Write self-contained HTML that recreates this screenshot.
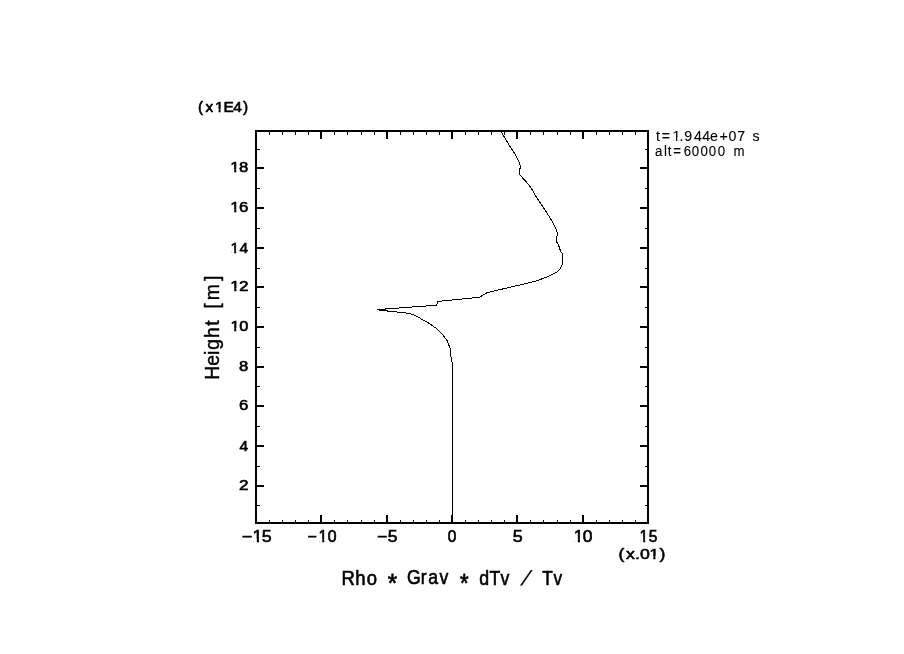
<!DOCTYPE html>
<html><head><meta charset="utf-8"><title>Rho * Grav * dTv / Tv</title>
<style>html,body{margin:0;padding:0;background:#fff;width:904px;height:654px;overflow:hidden}svg{display:block;will-change:transform}text{-webkit-font-smoothing:antialiased}</style>
</head><body>
<svg width="904" height="654" viewBox="0 0 904 654">
<rect width="904" height="654" fill="#fff"/>
<path d="M255 130h394v2h-394zM255 522h394v2h-394zM255 130h2v394h-2zM647 130h2v394h-2zM269 132h1v3h-1zM269 520h1v2h-1zM282 132h1v3h-1zM282 520h1v2h-1zM295 132h1v3h-1zM295 520h1v2h-1zM308 132h1v3h-1zM308 520h1v2h-1zM320 132h2v7h-2zM320 515h2v7h-2zM334 132h1v3h-1zM334 520h1v2h-1zM347 132h1v3h-1zM347 520h1v2h-1zM361 132h1v3h-1zM361 520h1v2h-1zM374 132h1v3h-1zM374 520h1v2h-1zM386 132h2v7h-2zM386 515h2v7h-2zM400 132h1v3h-1zM400 520h1v2h-1zM413 132h1v3h-1zM413 520h1v2h-1zM426 132h1v3h-1zM426 520h1v2h-1zM439 132h1v3h-1zM439 520h1v2h-1zM451 132h2v7h-2zM451 515h2v7h-2zM465 132h1v3h-1zM465 520h1v2h-1zM478 132h1v3h-1zM478 520h1v2h-1zM491 132h1v3h-1zM491 520h1v2h-1zM504 132h1v3h-1zM504 520h1v2h-1zM516 132h2v7h-2zM516 515h2v7h-2zM530 132h1v3h-1zM530 520h1v2h-1zM543 132h1v3h-1zM543 520h1v2h-1zM557 132h1v3h-1zM557 520h1v2h-1zM570 132h1v3h-1zM570 520h1v2h-1zM582 132h2v7h-2zM582 515h2v7h-2zM596 132h1v3h-1zM596 520h1v2h-1zM609 132h1v3h-1zM609 520h1v2h-1zM622 132h1v3h-1zM622 520h1v2h-1zM635 132h1v3h-1zM635 520h1v2h-1zM257 505h3v1h-3zM645 505h2v1h-2zM257 485h7v2h-7zM640 485h7v2h-7zM257 466h3v1h-3zM645 466h2v1h-2zM257 445h7v2h-7zM640 445h7v2h-7zM257 426h3v1h-3zM645 426h2v1h-2zM257 405h7v2h-7zM640 405h7v2h-7zM257 386h3v1h-3zM645 386h2v1h-2zM257 366h7v2h-7zM640 366h7v2h-7zM257 347h3v1h-3zM645 347h2v1h-2zM257 326h7v2h-7zM640 326h7v2h-7zM257 307h3v1h-3zM645 307h2v1h-2zM257 286h7v2h-7zM640 286h7v2h-7zM257 268h3v1h-3zM645 268h2v1h-2zM257 247h7v2h-7zM640 247h7v2h-7zM257 228h3v1h-3zM645 228h2v1h-2zM257 207h7v2h-7zM640 207h7v2h-7zM257 188h3v1h-3zM645 188h2v1h-2zM257 167h7v2h-7zM640 167h7v2h-7zM257 149h3v1h-3zM645 149h2v1h-2z" fill="#000" shape-rendering="crispEdges"/>
<path d="M501.0 131.5 L503.3 135.3 L505.2 138.6 L507.9 143.1 L510.7 147.7 L513.9 152.3 L516.3 156.6 L519.3 162.6 L520.4 166.0 L520.2 168.1 L519.5 169.0 L519.5 174.4 L524.4 179.9 L528.6 184.5 L531.5 188.7 L535.3 195.4 L538.4 200.0 L542.2 205.7 L546.0 211.5 L549.9 217.6 L552.9 222.9 L556.0 228.7 L557.1 232.1 L557.4 235.2 L556.6 236.7 L556.6 242.0 L558.3 244.3 L559.5 248.0 L560.7 251.5 L562.5 254.0 L562.5 264.0 L561.5 266.5 L559.8 269.5 L557.8 271.5 L555.0 273.0 L551.8 274.6 L548.8 276.2 L545.7 277.6 L542.5 278.6 L537.8 280.4 L530.5 282.5 L487.5 292.5 L486.0 293.2 L479.5 297.3 L437.5 301.5 L436.8 305.2 L377.5 309.6 L381.0 310.3 L405.0 312.9 L410.0 313.6 L414.0 315.0 L419.0 317.5 L422.3 319.6 L429.7 323.7 L436.1 328.3 L442.5 334.7 L446.7 339.8 L448.5 344.4 L450.3 348.5 L450.8 355.4 L451.5 359.4 L452.5 364.0 L452.5 522.0" stroke="#000" stroke-width="1" fill="none" stroke-linejoin="round" shape-rendering="crispEdges"/>
<g>
<g transform="matrix(0.07737,0,0,0.07123,0,112.000)"><text x="2558.16 2657.02 2779.09 2887.25 3014.55 3140.28" y="0.00 0.00 0.00 0.00 0.00 0.00" font-family="Liberation Sans" font-size="200" font-weight="normal" stroke="#000" stroke-width="8.10" stroke-linejoin="round" xml:space="preserve">(x1E4)</text><path d="M2787.27 -40.99H2825.33V24.05H2787.27ZM2851.11 -40.99H2887.61V24.05H2851.11Z" fill="#fff"/></g>
<g transform="matrix(0.08333,0,0,0.07333,0,172.000)"><text x="2764.40 2869.00" y="0.00 0.00" font-family="Liberation Sans" font-size="200" font-weight="normal" stroke="#000" stroke-width="8.41" stroke-linejoin="round" xml:space="preserve">18</text><path d="M2772.43 -41.15H2810.48V24.21H2772.43ZM2836.57 -41.15H2873.07V24.21H2836.57Z" fill="#fff"/></g>
<g transform="matrix(0.08416,0,0,0.07333,0,212.000)"><text x="2736.87 2839.82" y="0.00 0.00" font-family="Liberation Sans" font-size="200" font-weight="normal" stroke="#000" stroke-width="8.33" stroke-linejoin="round" xml:space="preserve">16</text><path d="M2744.94 -41.11H2783.00V24.16H2744.94ZM2809.00 -41.11H2845.50V24.16H2809.00Z" fill="#fff"/></g>
<g transform="matrix(0.07727,0,0,0.07483,0,253.000)"><text x="2984.63 3099.41" y="0.00 0.00" font-family="Liberation Sans" font-size="200" font-weight="normal" stroke="#000" stroke-width="8.58" stroke-linejoin="round" xml:space="preserve">14</text><path d="M2992.58 -41.23H3030.64V24.29H2992.58ZM3056.89 -41.23H3093.39V24.29H3056.89Z" fill="#fff"/></g>
<g transform="matrix(0.08586,0,0,0.07432,0,291.000)"><text x="2681.81 2783.47" y="0.00 0.00" font-family="Liberation Sans" font-size="200" font-weight="normal" stroke="#000" stroke-width="8.27" stroke-linejoin="round" xml:space="preserve">12</text><path d="M2689.91 -41.08H2727.96V24.14H2689.91ZM2753.91 -41.08H2790.41V24.14H2753.91Z" fill="#fff"/></g>
<g transform="matrix(0.08173,0,0,0.07333,0,331.000)"><text x="2819.46 2926.35" y="0.00 0.00" font-family="Liberation Sans" font-size="200" font-weight="normal" stroke="#000" stroke-width="8.49" stroke-linejoin="round" xml:space="preserve">10</text><path d="M2827.44 -41.19H2865.50V24.25H2827.44ZM2891.67 -41.19H2928.17V24.25H2891.67Z" fill="#fff"/></g>
<g transform="matrix(0.08333,0,0,0.07333,0,371.000)"><text x="2869.00" y="0.00" font-family="Liberation Sans" font-size="200" font-weight="normal" stroke="#000" stroke-width="8.41" stroke-linejoin="round" xml:space="preserve">8</text></g>
<g transform="matrix(0.08416,0,0,0.07333,0,410.000)"><text x="2839.82" y="0.00" font-family="Liberation Sans" font-size="200" font-weight="normal" stroke="#000" stroke-width="8.33" stroke-linejoin="round" xml:space="preserve">6</text></g>
<g transform="matrix(0.07727,0,0,0.07483,0,451.000)"><text x="3099.41" y="0.00" font-family="Liberation Sans" font-size="200" font-weight="normal" stroke="#000" stroke-width="8.58" stroke-linejoin="round" xml:space="preserve">4</text></g>
<g transform="matrix(0.08586,0,0,0.07432,0,490.000)"><text x="2783.47" y="0.00" font-family="Liberation Sans" font-size="200" font-weight="normal" stroke="#000" stroke-width="8.27" stroke-linejoin="round" xml:space="preserve">2</text></g>
<g transform="matrix(0.08932,0,0,0.08108,0,542.000)"><text x="2706.83 2828.08 2929.26" y="0.00 0.00 0.00" font-family="Liberation Sans" font-size="200" font-weight="normal" stroke="#000" stroke-width="7.73" stroke-linejoin="round" xml:space="preserve">−15</text><path d="M2836.45 -40.80H2874.51V23.86H2836.45ZM2899.91 -40.80H2936.41V23.86H2899.91Z" fill="#fff"/></g>
<g transform="matrix(0.07885,0,0,0.08000,0,542.000)"><text x="3898.57 4040.30 4156.00" y="0.00 0.00 0.00" font-family="Liberation Sans" font-size="200" font-weight="normal" stroke="#000" stroke-width="8.28" stroke-linejoin="round" xml:space="preserve">−10</text><path d="M4048.39 -41.08H4086.45V24.14H4048.39ZM4112.41 -41.08H4148.90V24.14H4112.41Z" fill="#fff"/></g>
<g transform="matrix(0.08738,0,0,0.08108,0,542.000)"><text x="4313.28 4436.44" y="0.00 0.00" font-family="Liberation Sans" font-size="200" font-weight="normal" stroke="#000" stroke-width="7.81" stroke-linejoin="round" xml:space="preserve">−5</text></g>
<g transform="matrix(0.07692,0,0,0.08000,0,542.000)"><text x="5820.00" y="0.00" font-family="Liberation Sans" font-size="200" font-weight="normal" stroke="#000" stroke-width="8.38" stroke-linejoin="round" xml:space="preserve">0</text></g>
<g transform="matrix(0.08932,0,0,0.08108,0,542.000)"><text x="5739.37" y="0.00" font-family="Liberation Sans" font-size="200" font-weight="normal" stroke="#000" stroke-width="7.73" stroke-linejoin="round" xml:space="preserve">5</text></g>
<g transform="matrix(0.08738,0,0,0.08000,0,542.000)"><text x="6565.56 6668.11" y="0.00 0.00" font-family="Liberation Sans" font-size="200" font-weight="normal" stroke="#000" stroke-width="7.90" stroke-linejoin="round" xml:space="preserve">10</text><path d="M6573.85 -40.89H6611.91V23.95H6573.85ZM6637.48 -40.89H6673.98V23.95H6637.48Z" fill="#fff"/></g>
<g transform="matrix(0.07767,0,0,0.08108,0,542.000)"><text x="8235.02 8351.88" y="0.00 0.00" font-family="Liberation Sans" font-size="200" font-weight="normal" stroke="#000" stroke-width="8.29" stroke-linejoin="round" xml:space="preserve">15</text><path d="M8243.11 -41.08H8281.17V24.14H8243.11ZM8307.13 -41.08H8343.63V24.14H8307.13Z" fill="#fff"/></g>
<g transform="matrix(0.08835,0,0,0.07333,0,559.000)"><text x="7001.22 7085.93 7187.66 7242.79 7347.50 7465.47" y="0.00 0.00 0.00 0.00 0.00 0.00" font-family="Liberation Sans" font-size="200" font-weight="normal" stroke="#000" stroke-width="7.49" stroke-linejoin="round" xml:space="preserve">(x.01)</text><path d="M7355.98 -40.69H7394.04V23.75H7355.98ZM7419.21 -40.69H7455.71V23.75H7419.21Z" fill="#fff"/></g>
<g transform="matrix(0.09238,0,0,0.10417,0,585.000)"><text x="3697.06 3846.46 3971.45" y="0.00 0.00 0.00" font-family="Liberation Sans" font-size="200" font-weight="normal" stroke="#000" stroke-width="6.24" stroke-linejoin="round" xml:space="preserve">Rho</text></g>
<g transform="matrix(0.08805,0,0,0.10135,0,584.000)"><text x="4622.59 4779.41 4862.90 4992.72" y="0.00 0.00 0.00 0.00" font-family="Liberation Sans" font-size="200" font-weight="normal" stroke="#000" stroke-width="6.47" stroke-linejoin="round" xml:space="preserve">Grav</text></g>
<g transform="matrix(0.08846,0,0,0.10417,0,585.000)"><text x="5417.55 5533.90 5658.44" y="0.00 0.00 0.00" font-family="Liberation Sans" font-size="200" font-weight="normal" stroke="#000" stroke-width="6.37" stroke-linejoin="round" xml:space="preserve">dTv</text></g>
<g transform="matrix(0.12051,0,0,0.12895,0,592.000)"><text x="3217.91" y="0.00" font-family="Liberation Sans" font-size="200" font-weight="normal" stroke="#000" stroke-width="5.91" stroke-linejoin="round" xml:space="preserve">*</text></g>
<g transform="matrix(0.11026,0,0,0.12727,0,592.000)"><text x="4171.19" y="0.00" font-family="Liberation Sans" font-size="200" font-weight="normal" stroke="#000" stroke-width="6.18" stroke-linejoin="round" xml:space="preserve">*</text></g>
<g transform="matrix(0.08631,0,0,0.10417,0,585.000)"><text x="6282.80 6412.47" y="0.00 0.00" font-family="Liberation Sans" font-size="200" font-weight="normal" stroke="#000" stroke-width="6.44" stroke-linejoin="round" xml:space="preserve">Tv</text></g>
<g transform="matrix(0.07104,0,0,0.07194,0,141.000)"><text x="9234.24 9316.15 9466.19 9565.55 9632.37 9768.01 9886.26 9995.56 10126.99 10256.69 10378.66 10428.66 10591.89" y="0.00 0.00 0.00 0.00 0.00 0.00 0.00 0.00 0.00 0.00 0.00 0.00 0.00" font-family="Liberation Sans" font-size="200" font-weight="normal" stroke="#000" stroke-width="1.40" stroke-linejoin="round" xml:space="preserve">t=1.944e+07 s</text><path d="M9477.72 -37.64H9515.78V20.70H9477.72ZM9534.86 -37.64H9571.35V20.70H9534.86Z" fill="#fff"/></g>
<g transform="matrix(0.06636,0,0,0.06944,0,156.000)"><text x="9870.76 10007.71 10064.25 10146.52 10301.97 10424.54 10556.39 10679.96 10817.85 10867.85 11054.32" y="0.00 0.00 0.00 0.00 0.00 0.00 0.00 0.00 0.00 0.00 0.00" font-family="Liberation Sans" font-size="200" font-weight="normal" stroke="#000" stroke-width="1.47" stroke-linejoin="round" xml:space="preserve">alt=60000 m</text></g>
<g transform="matrix(0,-0.09684,0.10423,0,218.792,1000)"><text x="6404.42 6548.96 6660.42 6715.64 6836.04 6963.70 7013.70 7137.87 7226.20 7423.49" y="0.00 0.00 0.00 0.00 0.00 0.00 0.00 0.00 0.00 0.00" font-family="Liberation Sans" font-size="200" font-weight="normal" stroke="#000" stroke-width="4.04" stroke-linejoin="round" xml:space="preserve">Height [m]</text></g>
<g transform="matrix(0.10197,0,-0.04264,0.10197,520.617,584.990)"><text font-family="Liberation Sans" font-size="200" font-weight="normal" stroke="#000" stroke-width="4.47" stroke-linejoin="round" xml:space="preserve">/</text></g>
</g>
</svg>
</body></html>
